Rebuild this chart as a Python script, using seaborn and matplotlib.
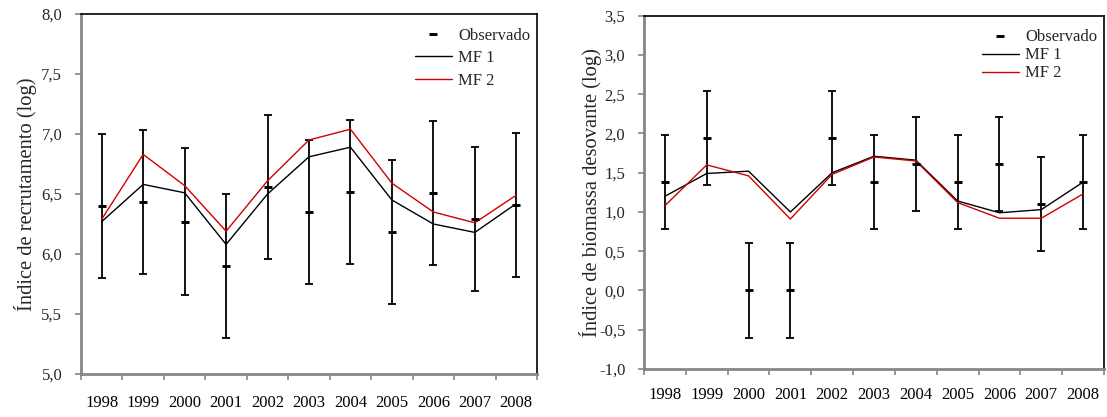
import numpy as np
import pandas as pd
import matplotlib
matplotlib.use("Agg")
import matplotlib.pyplot as plt
import seaborn as sns
from matplotlib.lines import Line2D
from matplotlib.ticker import FuncFormatter, FixedLocator

years = ["1998", "1999", "2000", "2001", "2002", "2003", "2004", "2005", "2006", "2007", "2008"]

# Left panel: recruitment index (log)
rec_obs = [6.40, 6.43, 6.27, 5.90, 6.56, 6.35, 6.52, 6.18, 6.51, 6.29, 6.41]
rec_err = [0.60, 0.60, 0.61, 0.60, 0.60, 0.60, 0.60, 0.60, 0.60, 0.60, 0.60]
rec_mf1 = [6.27, 6.58, 6.51, 6.08, 6.50, 6.81, 6.89, 6.45, 6.25, 6.18, 6.42]
rec_mf2 = [6.29, 6.83, 6.57, 6.19, 6.61, 6.95, 7.04, 6.59, 6.35, 6.26, 6.49]

# Right panel: spawning biomass index (log)
bio_obs = [1.38, 1.94, 0.00, 0.00, 1.94, 1.38, 1.61, 1.38, 1.61, 1.10, 1.38]
bio_err = [0.60, 0.60, 0.60, 0.60, 0.60, 0.60, 0.60, 0.60, 0.60, 0.60, 0.60]
bio_mf1 = [1.20, 1.49, 1.52, 1.00, 1.50, 1.71, 1.66, 1.14, 0.99, 1.03, 1.38]
bio_mf2 = [1.08, 1.60, 1.46, 0.91, 1.48, 1.70, 1.65, 1.12, 0.92, 0.92, 1.23]

sns.set_style("white")
plt.rcParams['font.family'] = ['Liberation Serif', 'DejaVu Serif']

RED = "#d00000"
GRAY = "#868686"

fig = plt.figure(figsize=(11.07, 4.17), dpi=100)
ax1 = fig.add_axes([81/1107, 1 - 374/417, 456/1107, 360/417])
ax2 = fig.add_axes([644/1107, 1 - 369/417, 460/1107, 353.3/417])

comma = FuncFormatter(lambda v, p: f"{v:.1f}".replace(".", ","))


def draw(ax, obs, err, mf1, mf2, ylim, yticks, ylabel, labelspacing, legend_anchor,
         xpad, ylabelpad):
    x = np.arange(len(years))
    df = pd.DataFrame({"x": np.concatenate([x, x]),
                       "y": np.concatenate([mf1, mf2]),
                       "serie": ["MF 1"] * len(x) + ["MF 2"] * len(x)})
    ax.errorbar(x, obs, yerr=err, fmt='none', ecolor='black', elinewidth=1.3,
                capsize=2.6, capthick=1.3, zorder=2)
    sns.lineplot(data=df, x="x", y="y", hue="serie", palette={"MF 1": "black", "MF 2": RED},
                 sort=False, linewidth=1.0, legend=False, ax=ax, zorder=3)
    ax.plot(x, obs, ls='none', marker='_', color='black', markersize=5.5, mew=2.1, zorder=4)

    ax.set_xlim(-0.5, len(years) - 0.5)
    ax.set_ylim(*ylim)
    ax.set_yticks(yticks)
    ax.yaxis.set_major_formatter(comma)
    ax.xaxis.set_major_locator(FixedLocator(np.arange(-0.5, len(years), 1.0)))
    ax.xaxis.set_major_formatter(FuncFormatter(lambda v, p: ""))
    ax.xaxis.set_minor_locator(FixedLocator(x))
    ax.set_xticklabels(years, minor=True)
    ax.tick_params(axis='x', which='major', direction='out', length=4, width=1.2, color=GRAY, bottom=True)
    ax.tick_params(axis='x', which='minor', length=0, pad=xpad, labelsize=12, labelcolor='black')
    ax.tick_params(axis='y', direction='out', length=4, width=1.2, color=GRAY, left=True,
                   labelsize=12, pad=9.5)
    ax.set_xlabel("")
    ax.set_ylabel(ylabel, fontsize=14.8, labelpad=ylabelpad)
    for s in ["left", "bottom"]:
        ax.spines[s].set_color(GRAY)
        ax.spines[s].set_linewidth(2.0)
    for s in ["top", "right"]:
        ax.spines[s].set_color("black")
        ax.spines[s].set_linewidth(1.2)

    handles = [Line2D([], [], ls='none', marker='_', color='black', markersize=5.5, mew=2.1),
               Line2D([], [], color='black', lw=1.0),
               Line2D([], [], color=RED, lw=1.0)]
    ax.legend(handles, ["Observado", "MF 1", "MF 2"], frameon=False, fontsize=12,
              loc='upper right', bbox_to_anchor=legend_anchor, labelspacing=labelspacing,
              handlelength=2.2, handletextpad=0.4, borderaxespad=0)


draw(ax1, rec_obs, rec_err, rec_mf1, rec_mf2, (5.0, 8.0), np.arange(5.0, 8.01, 0.5),
     "Índice de recrutamento (log)", 0.38, (1.0, 0.98), 15, 3)
draw(ax2, bio_obs, bio_err, bio_mf1, bio_mf2, (-1.0, 3.5), np.arange(-1.0, 3.51, 0.5),
     "Índice de biomassa desovante (log)", 0.12, (1.0, 0.98), 13, -2)

fig.savefig("out.png", dpi=100)
